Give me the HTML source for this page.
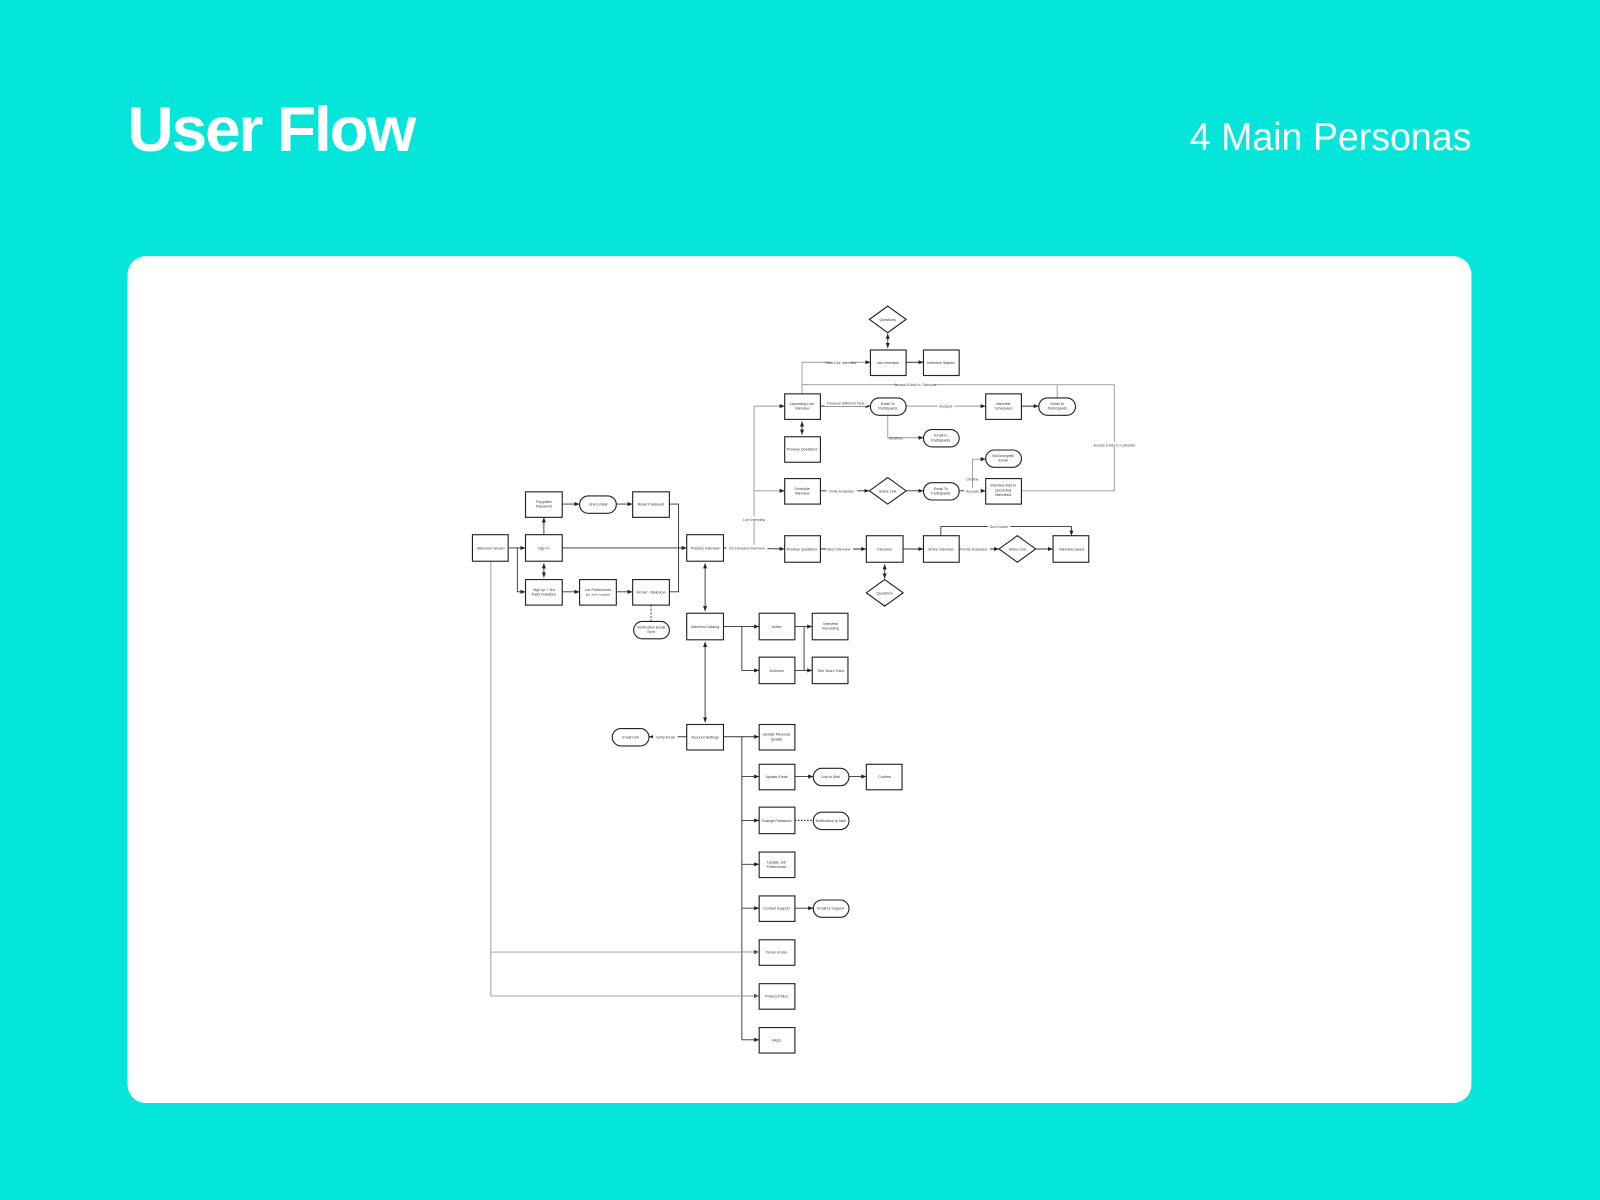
<!DOCTYPE html>
<html><head><meta charset="utf-8"><style>
html,body{margin:0;padding:0;background:#05E6DA;}
svg{display:block}
text{font-family:"Liberation Sans",sans-serif;}
.t{font-size:3.6px;fill:#333;text-anchor:middle;}
.l{font-size:3.6px;fill:#444;text-anchor:middle;}
.b{fill:#fff;stroke:#222;stroke-width:1.1;}
.c{fill:none;stroke:#333;stroke-width:0.9;}
.g{fill:none;stroke:#999;stroke-width:0.9;}
</style></head><body>
<svg width="1600" height="1200" viewBox="0 0 1568 1176" xmlns="http://www.w3.org/2000/svg">
<defs>
<marker id="a" markerWidth="6" markerHeight="6" refX="5" refY="3" orient="auto" markerUnits="userSpaceOnUse"><path d="M0,1 L5,3 L0,5 z" fill="#222"/></marker>
<marker id="s" markerWidth="6" markerHeight="6" refX="1" refY="3" orient="auto" markerUnits="userSpaceOnUse"><path d="M6,1 L1,3 L6,5 z" fill="#222"/></marker>
</defs>
<rect width="1568" height="1176" fill="#05E6DA"/>
<text x="125" y="148" font-size="62" font-weight="bold" fill="#fff" textLength="281" lengthAdjust="spacingAndGlyphs" style="letter-spacing:-2px">User Flow</text>
<text x="1442" y="147" font-size="38" fill="#fff" text-anchor="end" textLength="276" lengthAdjust="spacingAndGlyphs">4 Main Personas</text>
<rect x="125" y="251" width="1317" height="830" rx="18" fill="#fff"/>

<!-- connectors -->
<g class="c">
<line x1="498" y1="537" x2="515" y2="537" marker-end="url(#a)"/>
<polyline points="507,537 507,580 515,580" marker-end="url(#a)"/>
<line x1="551" y1="537" x2="673" y2="537" marker-end="url(#a)"/>
<line x1="533" y1="524" x2="533" y2="507" marker-end="url(#a)"/>
<line x1="533" y1="552" x2="533" y2="566" marker-start="url(#s)" marker-end="url(#a)"/>
<line x1="551" y1="494" x2="568" y2="494" marker-end="url(#a)"/>
<line x1="604" y1="494" x2="620" y2="494" marker-end="url(#a)"/>
<polyline points="656,494 665,494 665,580 656,580"/>
<line x1="551" y1="580" x2="568" y2="580" marker-end="url(#a)"/>
<line x1="604" y1="580" x2="620" y2="580" marker-end="url(#a)"/>
<line x1="638" y1="593" x2="638" y2="609" stroke-dasharray="2,1.5"/>
<line x1="691" y1="552" x2="691" y2="599" marker-start="url(#s)" marker-end="url(#a)"/>
<line x1="691" y1="629" x2="691" y2="708" marker-start="url(#s)" marker-end="url(#a)"/>
<polyline points="709,614 727,614"/>
<line x1="727" y1="614" x2="744" y2="614" marker-end="url(#a)"/>
<polyline points="727,614 727,657 744,657" marker-end="url(#a)"/>
<line x1="779" y1="614" x2="796" y2="614" marker-end="url(#a)"/>
<line x1="779" y1="657" x2="796" y2="657" marker-end="url(#a)"/>
<line x1="788" y1="614" x2="788" y2="657"/>
<line x1="673" y1="722" x2="636" y2="722" marker-end="url(#a)"/>
<polyline points="709,722 727,722 727,1019"/>
<line x1="727" y1="722" x2="744" y2="722" marker-end="url(#a)"/>
<line x1="727" y1="761" x2="744" y2="761" marker-end="url(#a)"/>
<line x1="727" y1="804" x2="744" y2="804" marker-end="url(#a)"/>
<line x1="727" y1="847" x2="744" y2="847" marker-end="url(#a)"/>
<line x1="727" y1="890" x2="744" y2="890" marker-end="url(#a)"/>
<line x1="727" y1="933" x2="744" y2="933" marker-end="url(#a)"/>
<line x1="727" y1="976" x2="744" y2="976" marker-end="url(#a)"/>
<line x1="727" y1="1019" x2="744" y2="1019" marker-end="url(#a)"/>
<line x1="779" y1="761" x2="797" y2="761" marker-end="url(#a)"/>
<line x1="832" y1="761" x2="849" y2="761" marker-end="url(#a)"/>
<line x1="779" y1="804" x2="797" y2="804" stroke-dasharray="1.5,1.5" stroke-width="1.2"/>
<line x1="779" y1="890" x2="797" y2="890" marker-end="url(#a)"/>
<line x1="709" y1="537" x2="769" y2="538" marker-end="url(#a)"/>
<line x1="804" y1="538" x2="849" y2="538" marker-end="url(#a)"/>
<line x1="867" y1="553" x2="867" y2="567" marker-start="url(#s)" marker-end="url(#a)"/>
<line x1="885" y1="538" x2="905" y2="538" marker-end="url(#a)"/>
<line x1="940" y1="538" x2="979" y2="538" marker-end="url(#a)"/>
<line x1="1015" y1="538" x2="1032" y2="538" marker-end="url(#a)"/>
<polyline points="922,525 922,516 1050,516 1050,525" marker-end="url(#a)"/>
<line x1="870" y1="327" x2="870" y2="341" marker-start="url(#s)" marker-end="url(#a)"/>
<line x1="888" y1="355" x2="905" y2="355" marker-end="url(#a)"/>
<line x1="786" y1="413" x2="786" y2="426" marker-start="url(#s)" marker-end="url(#a)"/>
<line x1="804" y1="398" x2="853" y2="398" marker-end="url(#a)"/>
<line x1="1001" y1="398" x2="1018" y2="398" marker-end="url(#a)"/>
<line x1="940" y1="481" x2="966" y2="481" marker-end="url(#a)"/>
<line x1="888" y1="481" x2="905" y2="481" marker-end="url(#a)"/>
<line x1="804" y1="481" x2="852" y2="481" marker-end="url(#a)"/>
</g>
<g class="g">
<polyline points="739,537 739,398 769,398" marker-end="url(#a)"/>
<line x1="739" y1="481" x2="769" y2="481" marker-end="url(#a)"/>
<polyline points="786,386 786,355 853,355" marker-end="url(#a)"/>
<polyline points="786,386 786,377 1092,377 1092,481 1001,481"/>
<line x1="1036" y1="390" x2="1036" y2="377"/>
<line x1="888" y1="398" x2="966" y2="398" marker-end="url(#a)"/>
<polyline points="870,407 870,429 905,429" marker-end="url(#a)"/>
<polyline points="953,481 953,450 966,450" marker-end="url(#a)"/>
<polyline points="481,550 481,976 744,976"/>
<line x1="481" y1="933" x2="744" y2="933"/>
</g>

<!-- labels on lines -->
<g class="l">
<rect x="815" y="352" width="18" height="5" fill="#fff"/><text x="824" y="356.5">Start Live Interview</text>
<rect x="880" y="374" width="36" height="5" fill="#fff"/><text x="897" y="378.5">Accept &amp; Add to Calendar</text>
<rect x="1070" y="433" width="44" height="5" fill="#fff"/><text x="1092" y="437.5">Accept &amp; Add to Calendar</text>
<rect x="808" y="393" width="42" height="5" fill="#fff"/><text x="829" y="396.5">Propose Different Time</text>
<rect x="919" y="395" width="16" height="5" fill="#fff"/><text x="927" y="399.5">Accepts</text>
<text x="878" y="430.5">Declines</text>
<rect x="810" y="478" width="30" height="5" fill="#fff"/><text x="825" y="482.5">Invite Evaluator</text>
<rect x="945" y="478" width="16" height="5" fill="#fff"/><text x="953" y="482.5">Accepts</text>
<text x="953" y="471">Decline</text>
<rect x="726" y="506" width="26" height="5" fill="#fff"/><text x="739" y="510.5">Live Interview</text>
<rect x="712" y="534" width="40" height="5" fill="#fff"/><text x="732" y="538.5">On-Demand Interview</text>
<rect x="810" y="535" width="26" height="5" fill="#fff"/><text x="822" y="539.5">Start Interview</text>
<rect x="942" y="535" width="28" height="5" fill="#fff"/><text x="955" y="539.5">Invite Evaluator</text>
<rect x="968" y="513" width="22" height="5" fill="#fff"/><text x="979" y="517.5">Don't share</text>
<rect x="640" y="719" width="24" height="5" fill="#fff"/><text x="652" y="723.5">Verify Email</text>
</g>

<!-- boxes -->
<g>
<rect class="b" x="463" y="524" width="35" height="26"/><text class="t" x="481" y="538.5">Welcome Screen</text>
<rect class="b" x="515" y="524" width="36" height="26"/><text class="t" x="533" y="538.5">Sign In</text>
<rect class="b" x="515" y="482" width="36" height="25"/><text class="t" x="533" y="493">Forgotten</text><text class="t" x="533" y="497.5">Password</text>
<rect class="b" x="568" y="486" width="36" height="17" rx="8.5"/><text class="t" x="586" y="495.5">Link to Mail</text>
<rect class="b" x="620" y="482" width="36" height="25"/><text class="t" x="638" y="495.5">Reset Password</text>
<rect class="b" x="515" y="568" width="36" height="25"/><text class="t" x="533" y="579">Sign up + 3rd</text><text class="t" x="533" y="583.5">Party Solutions</text>
<rect class="b" x="568" y="568" width="36" height="25"/><text class="t" x="586" y="579">Job Preferences</text><text class="t" x="586" y="583.5" style="font-size:3px">job, level, location</text>
<rect class="b" x="620" y="568" width="36" height="25"/><text class="t" x="638" y="581.5">All Set - Welcome</text>
<rect class="b" x="621" y="609" width="35" height="17" rx="8.5"/><text class="t" x="638" y="616">Verification Email</text><text class="t" x="638" y="620.5">Sent</text>
<rect class="b" x="673" y="524" width="36" height="26"/><text class="t" x="691" y="538.5">Practice Interview</text>
<rect class="b" x="673" y="601" width="36" height="26"/><text class="t" x="691" y="615.5">Interview Catalog</text>
<rect class="b" x="673" y="710" width="36" height="25"/><text class="t" x="691" y="723.5">Account Settings</text>
<rect class="b" x="600" y="714" width="36" height="17" rx="8.5"/><text class="t" x="618" y="723.5">Email Link</text>
<rect class="b" x="744" y="601" width="35" height="26"/><text class="t" x="761" y="615.5">Active</text>
<rect class="b" x="744" y="644" width="35" height="26"/><text class="t" x="761" y="658.5">Archived</text>
<rect class="b" x="796" y="601" width="35" height="26"/><text class="t" x="814" y="612.5">Interview</text><text class="t" x="814" y="617">Recording</text>
<rect class="b" x="796" y="644" width="35" height="26"/><text class="t" x="814" y="658.5">See Score Card</text>
<rect class="b" x="744" y="710" width="35" height="25"/><text class="t" x="761" y="721">Update Personal</text><text class="t" x="761" y="725.5">Details</text>
<rect class="b" x="744" y="749" width="35" height="25"/><text class="t" x="761" y="762.5">Update Email</text>
<rect class="b" x="797" y="753" width="35" height="17" rx="8.5"/><text class="t" x="814" y="762.5">Link to Mail</text>
<rect class="b" x="849" y="749" width="35" height="25"/><text class="t" x="867" y="762.5">Confirm</text>
<rect class="b" x="744" y="791" width="35" height="26"/><text class="t" x="761" y="805.5">Change Password</text>
<rect class="b" x="797" y="796" width="35" height="17" rx="8.5"/><text class="t" x="814" y="805.5">Notification to Mail</text>
<rect class="b" x="744" y="835" width="35" height="25"/><text class="t" x="761" y="846">Update Job</text><text class="t" x="761" y="850.5">Preferences</text>
<rect class="b" x="744" y="878" width="35" height="25"/><text class="t" x="761" y="891.5">Contact Support</text>
<rect class="b" x="797" y="882" width="35" height="17" rx="8.5"/><text class="t" x="814" y="891.5">Email to Support</text>
<rect class="b" x="744" y="921" width="35" height="25"/><text class="t" x="761" y="934.5">Terms of Use</text>
<rect class="b" x="744" y="964" width="35" height="25"/><text class="t" x="761" y="977.5">Privacy Policy</text>
<rect class="b" x="744" y="1007" width="35" height="25"/><text class="t" x="761" y="1020.5">FAQs</text>

<polygon class="b" points="870,300 888,313 870,326 852,313"/><text class="t" x="870" y="314.5">Questions</text>
<rect class="b" x="853" y="343" width="35" height="25"/><text class="t" x="870" y="356.5">Live Interview</text>
<rect class="b" x="905" y="343" width="35" height="25"/><text class="t" x="922" y="356.5">Interview Started</text>
<rect class="b" x="769" y="386" width="35" height="25"/><text class="t" x="786" y="397">Upcoming Live</text><text class="t" x="786" y="401.5">Interview</text>
<rect class="b" x="769" y="428" width="35" height="25"/><text class="t" x="786" y="441.5">Preview Questions</text>
<rect class="b" x="853" y="390" width="35" height="17" rx="8.5"/><text class="t" x="870" y="397">Email To</text><text class="t" x="870" y="401.5">Participants</text>
<rect class="b" x="966" y="386" width="35" height="25"/><text class="t" x="983" y="397">Interview</text><text class="t" x="983" y="401.5">Scheduled</text>
<rect class="b" x="1018" y="390" width="36" height="17" rx="8.5"/><text class="t" x="1036" y="397">Email to</text><text class="t" x="1036" y="401.5">Participants</text>
<rect class="b" x="905" y="421" width="35" height="17" rx="8.5"/><text class="t" x="922" y="428">Email to</text><text class="t" x="922" y="432.5">Participants</text>
<rect class="b" x="769" y="469" width="35" height="25"/><text class="t" x="786" y="480">Schedule</text><text class="t" x="786" y="484.5">Interview</text>
<polygon class="b" points="870,468 888,481 870,494 852,481"/><text class="t" x="870" y="482.5">Share Link</text>
<rect class="b" x="905" y="473" width="35" height="17" rx="8.5"/><text class="t" x="922" y="480">Email To</text><text class="t" x="922" y="484.5">Participants</text>
<rect class="b" x="966" y="441" width="35" height="17" rx="8.5"/><text class="t" x="983" y="448">Not Accepted</text><text class="t" x="983" y="452.5">Email</text>
<rect class="b" x="966" y="469" width="35" height="25"/><text class="t" x="983" y="477">Interview Add to</text><text class="t" x="983" y="481.5">Upcoming</text><text class="t" x="983" y="486">Interviews</text>
<rect class="b" x="769" y="525" width="35" height="26"/><text class="t" x="786" y="539.5">Preview Questions</text>
<rect class="b" x="849" y="525" width="36" height="26"/><text class="t" x="867" y="539.5">Interview</text>
<polygon class="b" points="867,568 885,581 867,594 849,581"/><text class="t" x="867" y="582.5">Questions</text>
<rect class="b" x="905" y="525" width="35" height="26"/><text class="t" x="922" y="539.5">Share Interview</text>
<polygon class="b" points="997,525 1015,538 997,551 979,538"/><text class="t" x="997" y="539.5">Share Link</text>
<rect class="b" x="1032" y="525" width="35" height="26"/><text class="t" x="1050" y="539.5">Interview saved</text>
</g>
</svg>
</body></html>
